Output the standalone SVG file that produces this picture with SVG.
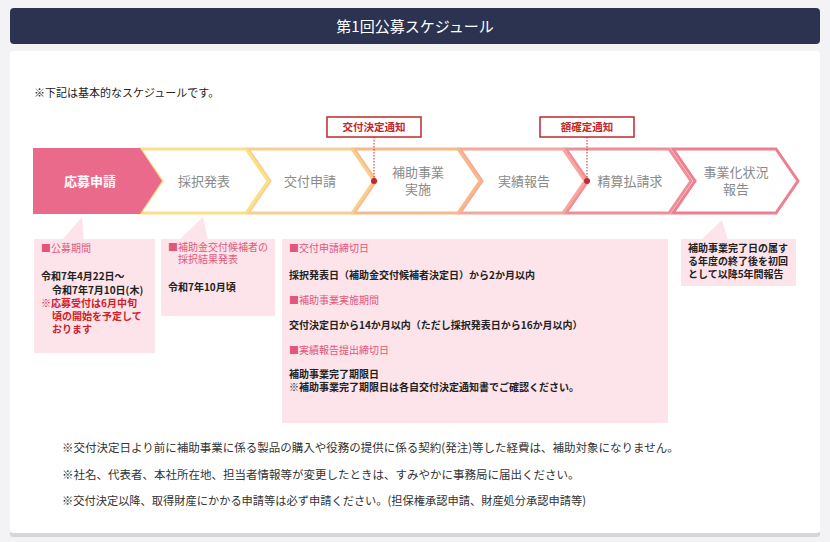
<svg xmlns="http://www.w3.org/2000/svg" width="830" height="542" viewBox="0 0 830 542">
<style>
text{font-family:"Noto Sans CJK JP","Noto Sans",sans-serif}
.lbl{font-size:13px;fill:#8a8a8a;text-anchor:middle}
.hd{font-size:10px;fill:#e0577d}
.bd{font-size:10px;fill:#222;font-weight:bold}
.rd{font-size:10px;fill:#d0202a;font-weight:bold}
.cb{fill:#fce4ea}
.note{font-size:11.5px;fill:#333}
.chev{fill:#fff;stroke-width:3}
.tag{fill:#fff;stroke:#c0282d;stroke-width:1.5}
.tagt{font-size:10.5px;fill:#c0282d;font-weight:bold;text-anchor:middle}
</style>
<rect width="830" height="542" fill="#f3f3f5"/>
<rect x="10" y="53" width="810" height="484" rx="3" fill="#d6d6d9"/>
<rect x="10" y="51" width="810" height="482" rx="3" fill="#fff"/>
<rect x="10" y="8" width="810" height="36" rx="4" fill="#2b3350"/>
<text x="415" y="32" font-size="15" fill="#fff" text-anchor="middle">第1回公募スケジュール</text>
<text x="34" y="97" font-size="11" fill="#222">※下記は基本的なスケジュールです。</text>
<g id="steps">
<polygon class="chev" stroke="#ef7f90" points="673,149 776,149 798,181 776,213 673,213 695,181"/>
<polygon class="chev" stroke="#f08e98" points="566,149 669,149 691,181 669,213 566,213 588,181"/>
<polygon class="chev" stroke="#f6a89a" points="460,149 563,149 585,181 563,213 460,213 482,181"/>
<polygon class="chev" stroke="#f7b98a" points="354,149 458,149 480,181 458,213 354,213 376,181"/>
<polygon class="chev" stroke="#f9cf8f" points="248,149 352,149 374,181 352,213 248,213 270,181"/>
<polygon class="chev" stroke="#fbe08a" points="140,149 246,149 268,181 246,213 140,213 162,181"/>
<polygon fill="#ea6a8b" points="33,148 140,148 162,181 140,214 33,214"/>
<text x="90" y="186" font-size="13" fill="#fff" text-anchor="middle" font-weight="bold">応募申請</text>
<text class="lbl" x="204" y="186">採択発表</text>
<text class="lbl" x="310" y="186">交付申請</text>
<text class="lbl" x="418" y="177">補助事業</text>
<text class="lbl" x="418" y="194">実施</text>
<text class="lbl" x="524" y="186">実績報告</text>
<text class="lbl" x="630" y="186">精算払請求</text>
<text class="lbl" x="736" y="177">事業化状況</text>
<text class="lbl" x="736" y="194">報告</text>
</g>
<g id="connectors">
<line x1="374" y1="137" x2="374" y2="181" stroke="#c0282d" stroke-dasharray="1.5,1.5"/>
<circle cx="374" cy="181" r="3" fill="#c0282d"/>
<line x1="587" y1="137" x2="587" y2="181" stroke="#c0282d" stroke-dasharray="1.5,1.5"/>
<circle cx="587" cy="181" r="3" fill="#c0282d"/>
</g>
<g id="tag1"><rect class="tag" x="327" y="117" width="94" height="20"/><text class="tagt" x="374" y="131">交付決定通知</text></g>
<g id="tag2"><rect class="tag" x="540" y="117" width="94" height="20"/><text class="tagt" x="587" y="131">額確定通知</text></g>
<g id="box1">
<polygon class="cb" points="62,240 82,217 84,240"/>
<rect class="cb" x="34" y="239" width="121" height="114"/>
<text class="hd" x="41" y="252">■公募期間</text>
<text class="bd" x="41" y="280">令和7年4月22日～</text>
<text class="bd" x="52" y="294">令和7年7月10日(木)</text>
<text class="rd" x="41" y="307">※応募受付は6月中旬</text>
<text class="rd" x="52" y="320">頃の開始を予定して</text>
<text class="rd" x="52" y="333">おります</text>
</g>
<g id="box2">
<polygon class="cb" points="179,240 203,217 208,240"/>
<rect class="cb" x="161" y="239" width="114" height="77"/>
<text class="hd" x="168" y="251">■補助金交付候補者の</text>
<text class="hd" x="178" y="263">採択結果発表</text>
<text class="bd" x="168" y="291">令和7年10月頃</text>
</g>
<g id="box3">
<rect class="cb" x="282" y="239" width="386" height="184"/>
<text class="hd" x="289" y="252">■交付申請締切日</text>
<text class="bd" x="289" y="279">採択発表日（補助金交付候補者決定日）から2か月以内</text>
<text class="hd" x="289" y="304">■補助事業実施期間</text>
<text class="bd" x="289" y="329">交付決定日から14か月以内（ただし採択発表日から16か月以内）</text>
<text class="hd" x="289" y="354">■実績報告提出締切日</text>
<text class="bd" x="289" y="378">補助事業完了期限日</text>
<text class="bd" x="289" y="391">※補助事業完了期限日は各自交付決定通知書でご確認ください。</text>
</g>
<g id="box4">
<polygon class="cb" points="701,240 722,220 728,240"/>
<rect class="cb" x="681" y="239" width="115" height="47"/>
<text class="bd" x="688" y="252">補助事業完了日の属す</text>
<text class="bd" x="688" y="265">る年度の終了後を初回</text>
<text class="bd" x="688" y="278">として以降5年間報告</text>
</g>
<text class="note" x="62" y="452">※交付決定日より前に補助事業に係る製品の購入や役務の提供に係る契約(発注)等した経費は、補助対象になりません。</text>
<text class="note" x="62" y="479">※社名、代表者、本社所在地、担当者情報等が変更したときは、すみやかに事務局に届出ください。</text>
<text class="note" x="62" y="505" textLength="524" lengthAdjust="spacingAndGlyphs">※交付決定以降、取得財産にかかる申請等は必ず申請ください。(担保権承認申請、財産処分承認申請等)</text>
</svg>
